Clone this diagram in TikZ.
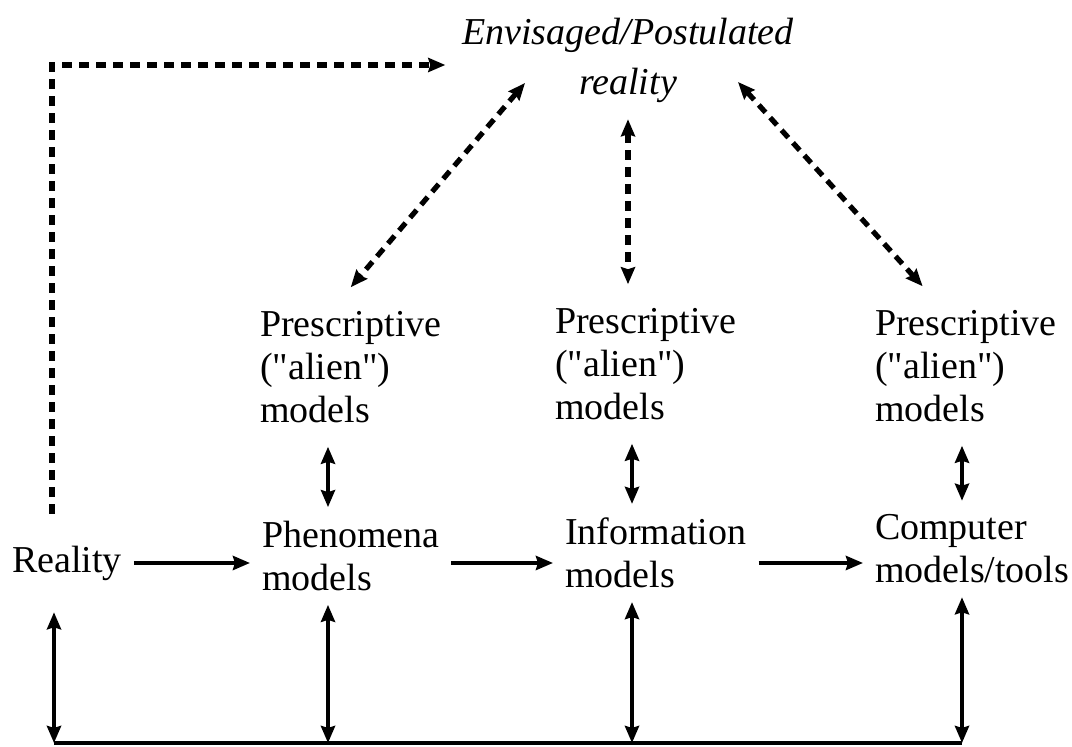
\documentclass[tikz,border=0pt]{standalone}
\usepackage{fontspec}
\setmainfont{Liberation Serif}
\usetikzlibrary{arrows.meta,calc}

\begin{document}
\begin{tikzpicture}[x=1pt, y=1pt,
  txt/.style={align=left, inner sep=0pt, outer xsep=6pt, outer ysep=7pt, font=\fontsize{19}{21.5}\selectfont},
  presc/.style={txt, outer ysep=12pt},
  link/.style={line width=2.1pt, -{Stealth[length=8.5pt, width=7pt, inset=1pt]}},
  both/.style={line width=2.1pt, {Stealth[length=8.5pt, width=7pt, inset=1pt]}-{Stealth[length=8.5pt, width=7pt, inset=1pt]}},
  dlink/.style={link, line width=2.6pt, dash pattern=on 5pt off 3.5pt},
  dboth/.style={both, line width=2.6pt, dash pattern=on 5pt off 3.5pt}]

\useasboundingbox (0,0) rectangle (536,-373.5);

\node[align=center, inner sep=0pt, outer sep=8.5pt, font=\itshape\fontsize{19}{25}\selectfont] (env_real) at (314,-30) {Envisaged/Postulated\\reality};
\node[presc, anchor=west] (presc_1) at (124,-183.5) {Prescriptive\\(\textquotedbl alien\textquotedbl)\\models};
\node[presc, anchor=west] (presc_2) at (271.5,-182) {Prescriptive\\(\textquotedbl alien\textquotedbl)\\models};
\node[presc, anchor=west] (presc_3) at (431.5,-183) {Prescriptive\\(\textquotedbl alien\textquotedbl)\\models};
\node[txt, anchor=west, outer ysep=16pt] (real) at (0,-281.5) {Reality};
\node[txt, anchor=west] (phen) at (125,-278) {Phenomena\\models};
\node[txt, anchor=west] (info) at (276.5,-276.5) {Information\\models};
\node[txt, anchor=west] (comp) at (431.5,-274.5) {Computer\\models/tools};

\coordinate (b_0) at (27,-371.5);
\coordinate (b_1) at (164,-371.5);
\coordinate (b_2) at (316,-371.5);
\coordinate (b_3) at (481,-371.5);
\coordinate (d_corner) at (26,-32.5);
\coordinate (env_l) at (262.5,-41.5);
\coordinate (env_r) at (369,-41);

\path[link] (real.east) edge (real.east -| phen.west);
\path[link] (phen.east |- real.east) edge (info.west |- real.east);
\path[link] (info.east |- real.east) edge (comp.west |- real.east);
\path[both] (presc_1.south -| b_1) edge (phen.north -| b_1);
\path[both] (presc_2.south -| b_2) edge (info.north -| b_2);
\path[both] (presc_3.south -| b_3) edge (comp.north -| b_3);
\path[both] (real.south -| b_0) edge (b_0);
\path[both] (phen.south -| b_1) edge (b_1);
\path[both] (info.south -| b_2) edge (b_2);
\path[both] (comp.south -| b_3) edge (b_3);
\draw[line width=2.1pt] (b_0) -- (b_3);

\draw[dlink] (real.north -| d_corner) -- (d_corner) -- (d_corner -| env_real.west);
\path[dboth] (env_real.south) edge (env_real.south |- presc_2.north);
\path[dboth] (env_l) edge (presc_1.north);
\path[dboth] (env_r) edge ($(presc_3.north west)!0.29!(presc_3.north east)$);

\end{tikzpicture}
\end{document}
